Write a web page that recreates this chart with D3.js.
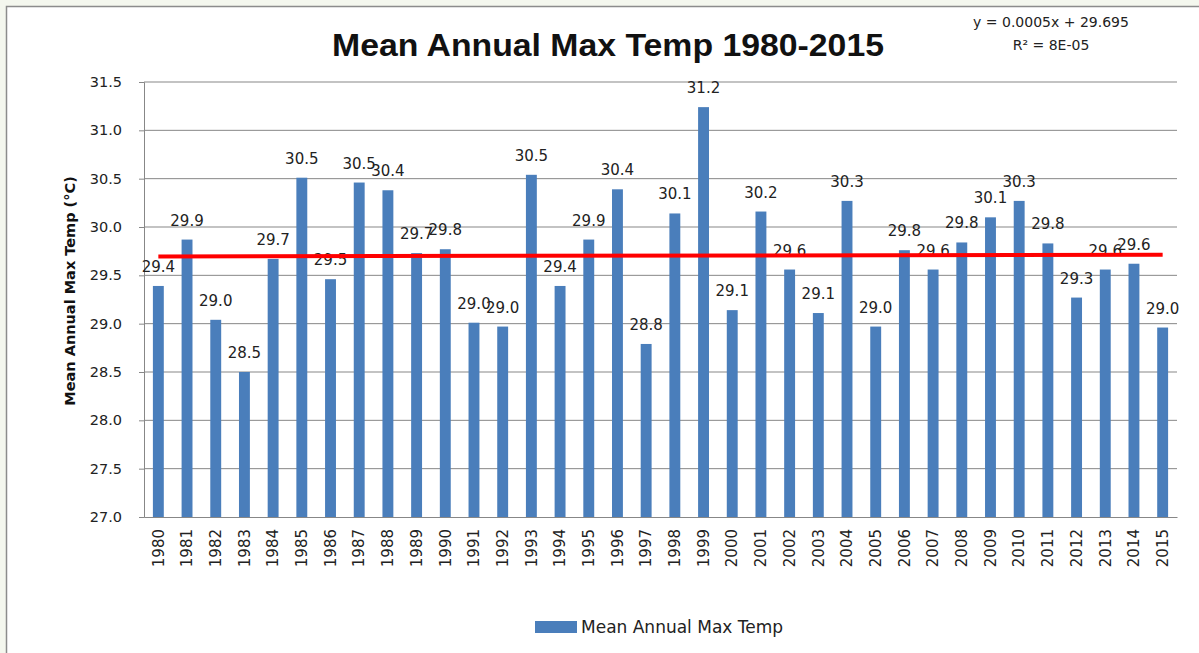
<!DOCTYPE html>
<html>
<head>
<meta charset="utf-8">
<script src="https://cdn.jsdelivr.net/npm/d3@7"></script>
<style>
  body { margin: 0; background: #f4f7ee; }
  svg { display: block; font-family: "DejaVu Sans", Verdana, sans-serif; }
</style>
</head>
<body>
<div id="chart"></div>
<script>
// data
var years = ["1980","1981","1982","1983","1984","1985","1986","1987","1988","1989",
  "1990","1991","1992","1993","1994","1995","1996","1997","1998","1999",
  "2000","2001","2002","2003","2004","2005","2006","2007","2008","2009",
  "2010","2011","2012","2013","2014","2015"];
var maxTemp = [29.39, 29.87, 29.04, 28.50, 29.67, 30.51, 29.46, 30.46, 30.38, 29.73,
  29.77, 29.01, 28.97, 30.54, 29.39, 29.87, 30.39, 28.79, 30.14, 31.24,
  29.14, 30.16, 29.56, 29.11, 30.27, 28.97, 29.76, 29.56, 29.84, 30.10,
  30.27, 29.83, 29.27, 29.56, 29.62, 28.96];
var yTicks = [27.0, 27.5, 28.0, 28.5, 29.0, 29.5, 30.0, 30.5, 31.0, 31.5];
// linear trendline as shown on the chart
var trendSlope = 0.0005;
var trendIntercept = 29.695;
var equationLines = ["y = 0.0005x + 29.695", "R² = 8E-05"];

var svgWidth = 1199;
var svgHeight = 653;

var margin = { top: 82, right: 22, bottom: 136, left: 144 };
var width = svgWidth - margin.left - margin.right;
var height = svgHeight - margin.top - margin.bottom;

var svg = d3.select("#chart")
  .append("svg")
  .attr("width", svgWidth)
  .attr("height", svgHeight);

// chart area with thin border
svg.append("rect")
  .attr("x", 6.5)
  .attr("y", 6.5)
  .attr("width", svgWidth + 10)
  .attr("height", svgHeight + 10)
  .attr("fill", "#ffffff")
  .attr("stroke", "#8c8c8c")
  .attr("stroke-width", 1.5);

var chartGroup = svg.append("g")
  .attr("transform", `translate(${margin.left}, ${margin.top})`);

var xScale = d3.scaleBand()
  .domain(years)
  .range([0, width])
  .paddingInner(0.62)
  .paddingOuter(0.31);

var yScale = d3.scaleLinear()
  .domain([27, 31.5])
  .range([height, 0]);

// gridlines
chartGroup.append("g")
  .selectAll("line")
  .data(yTicks.slice(1))
  .enter()
  .append("line")
  .attr("x1", 0)
  .attr("x2", width)
  .attr("y1", d => yScale(d))
  .attr("y2", d => yScale(d))
  .attr("stroke", "#878787")
  .attr("stroke-width", 1);

// left axis
var leftAxis = d3.axisLeft(yScale)
  .tickValues(yTicks)
  .tickFormat(d3.format(".1f"))
  .tickSize(5)
  .tickPadding(17);

var yAxis = chartGroup.append("g").call(leftAxis);
yAxis.select(".domain").attr("stroke", "#878787");
yAxis.selectAll(".tick line").attr("stroke", "#878787");
yAxis.selectAll("text")
  .attr("font-size", 14.5)
  .attr("font-family", "DejaVu Sans")
  .attr("fill", "#222");

// bottom axis
var bottomAxis = d3.axisBottom(xScale).tickSize(0).tickPadding(8);
var xAxis = chartGroup.append("g")
  .attr("transform", `translate(0, ${height})`)
  .call(bottomAxis);
xAxis.select(".domain").attr("stroke", "#878787");
xAxis.selectAll("text")
  .attr("font-size", 15)
  .attr("font-family", "DejaVu Sans")
  .attr("fill", "#222")
  .attr("transform", "rotate(-90)")
  .attr("text-anchor", "end")
  .attr("x", -12)
  .attr("y", 0)
  .attr("dy", "0.35em");

// bars
chartGroup.selectAll(".bar")
  .data(maxTemp)
  .enter()
  .append("rect")
  .attr("class", "bar")
  .attr("x", (d, i) => xScale(years[i]))
  .attr("y", d => yScale(d))
  .attr("width", xScale.bandwidth())
  .attr("height", d => height - yScale(d))
  .attr("fill", "#4a7ebb");

// value labels
chartGroup.selectAll(".barLabel")
  .data(maxTemp)
  .enter()
  .append("text")
  .attr("class", "barLabel")
  .attr("x", (d, i) => xScale(years[i]) + xScale.bandwidth() / 2)
  .attr("y", d => yScale(d) - 14)
  .attr("text-anchor", "middle")
  .attr("font-size", 15)
  .attr("fill", "#222")
  .text(d => d.toFixed(1));

// trendline
var firstYear = 1, lastYear = years.length;
chartGroup.append("line")
  .attr("x1", xScale(years[0]) + xScale.bandwidth() / 2)
  .attr("x2", xScale(years[years.length - 1]) + xScale.bandwidth() / 2)
  .attr("y1", yScale(trendSlope * firstYear + trendIntercept))
  .attr("y2", yScale(trendSlope * lastYear + trendIntercept))
  .attr("stroke", "#ff0000")
  .attr("stroke-width", 4);

// title
svg.append("text")
  .attr("x", 608)
  .attr("y", 56)
  .attr("text-anchor", "middle")
  .attr("font-family", "Liberation Sans, Arial, sans-serif")
  .attr("font-size", 31)
  .attr("font-weight", "bold")
  .attr("textLength", 552)
  .attr("lengthAdjust", "spacingAndGlyphs")
  .attr("fill", "#111")
  .text("Mean Annual Max Temp 1980-2015");

// trend equation
svg.append("g")
  .selectAll("text")
  .data(equationLines)
  .enter()
  .append("text")
  .attr("x", 1051)
  .attr("y", (d, i) => 27 + i * 23)
  .attr("text-anchor", "middle")
  .attr("font-size", 14)
  .attr("fill", "#222")
  .text(d => d);

// y axis title
svg.append("text")
  .attr("transform", "translate(75, 291) rotate(-90)")
  .attr("text-anchor", "middle")
  .attr("font-size", 14.5)
  .attr("font-weight", "bold")
  .attr("fill", "#111")
  .text("Mean Annual Max Temp (°C)");

// legend
var legend = svg.append("g").attr("transform", "translate(535, 621)");
legend.append("rect")
  .attr("width", 42)
  .attr("height", 12)
  .attr("fill", "#4a7ebb");
legend.append("text")
  .attr("x", 46)
  .attr("y", 12)
  .attr("font-size", 17)
  .attr("fill", "#222")
  .text("Mean Annual Max Temp");
</script>
</body>
</html>
